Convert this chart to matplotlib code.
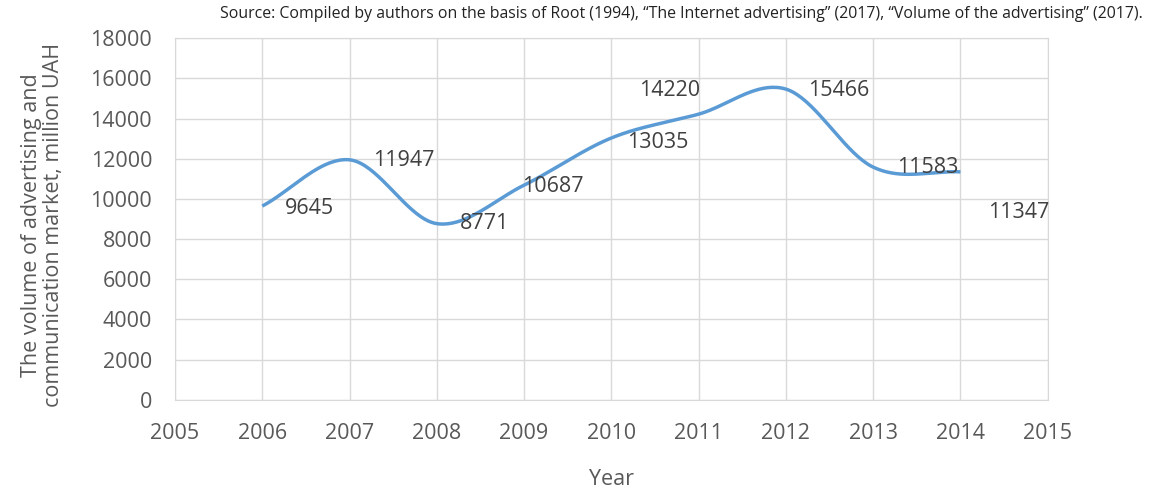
import numpy as np
import matplotlib.pyplot as plt

years = [2006, 2007, 2008, 2009, 2010, 2011, 2012, 2013, 2014]
volume = [9645, 11947, 8771, 10687, 13035, 14220, 15466, 11583, 11347]
# label offsets in pixels
label_dx = [47, 54, 48, 29, 46, -29, 53, 55, 58]
label_dy = [-2, -1, 0, -1, -5, 24, -1, 0, -41]

source = ("Source: Compiled by authors on the basis of Root (1994), "
          "\u201cThe Internet advertising\u201d (2017), "
          "\u201cVolume of the advertising\u201d (2017).")

plt.rcParams['font.family'] = ['Open Sans', 'DejaVu Sans']
taille = 15.5


def lissage(x, y, n=40):
    # smooth curve like Excel (Catmull-Rom through the points)
    x = np.asarray(x, float)
    y = np.asarray(y, float)
    px = np.concatenate([[2 * x[0] - x[1]], x, [2 * x[-1] - x[-2]]])
    py = np.concatenate([[2 * y[0] - y[1]], y, [2 * y[-1] - y[-2]]])
    xs, ys = [], []
    t = np.linspace(0, 1, n)
    for i in range(1, len(px) - 2):
        for p, out in ((px, xs), (py, ys)):
            p0, p1, p2, p3 = p[i - 1], p[i], p[i + 1], p[i + 2]
            c1 = p1 + (p2 - p0) / 6
            c2 = p2 - (p3 - p1) / 6
            out.extend((1 - t) ** 3 * p1 + 3 * (1 - t) ** 2 * t * c1
                       + 3 * (1 - t) * t ** 2 * c2 + t ** 3 * p2)
    return np.array(xs), np.array(ys)


fig = plt.figure(figsize=(11.59, 4.9), dpi=100)
ax = fig.add_axes([0.151, 0.184, 0.753, 0.738])

sx, sy = lissage(years, volume)
ax.plot(sx, sy, color='#5b9bd5', linewidth=2.5, solid_capstyle='butt')

for yr, v, dx, dy in zip(years, volume, label_dx, label_dy):
    ax.annotate(str(v), (yr, v), xytext=(dx, dy), textcoords='offset pixels',
                ha='center', va='center', fontsize=taille, color='#404040')

ax.set_xlim(2005, 2015)
ax.set_ylim(0, 18000)
ax.set_xticks(range(2005, 2016))
ax.set_yticks(range(0, 18001, 2000))
ax.grid(True, color='#d9d9d9', linewidth=1)
ax.set_axisbelow(True)
for s in ax.spines.values():
    s.set_color('#d9d9d9')
ax.tick_params(length=0, labelsize=taille, labelcolor='#595959')
ax.tick_params(axis='x', pad=17)
ax.tick_params(axis='y', pad=16.5)

ax.set_xlabel('Year', fontsize=taille, color='#595959', labelpad=18)
ax.set_ylabel('The volume of advertising and\ncommunication market, million UAH',
              fontsize=taille, color='#595959', linespacing=1.05)
ax.yaxis.set_label_coords(-0.127, 0.483)

fig.text(0.986, 0.971, source, ha='right', va='center', fontsize=11.4, color='#222222')

fig.savefig('out.png', dpi=100)
